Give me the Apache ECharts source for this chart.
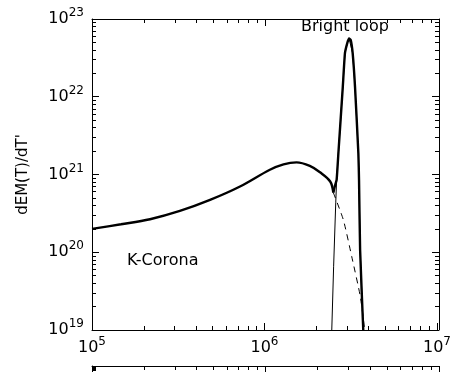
<!DOCTYPE html>
<html>
<head>
<meta charset="utf-8">
<script src="https://cdn.jsdelivr.net/npm/echarts@6/dist/echarts.min.js"></script>
<style>
  html, body { margin: 0; padding: 0; background: #fff; }
  #chart { width: 454px; height: 372px; }
</style>
</head>
<body>
<div id="chart"></div>
<script>
// temperature (K) and dEM/dT
// total curve, K-corona dominated part (up to the dip)
const coronaT = [1.00e5, 1.47e5, 2.16e5, 3.21e5, 4.79e5, 7.13e5, 1.06e6, 1.27e6, 1.51e6, 1.80e6,
  2.06e6, 2.36e6, 2.46e6];
const coronaEM = [2.00e20, 2.29e20, 2.66e20, 3.40e20, 4.71e20, 7.00e20, 1.15e21, 1.35e21, 1.43e21, 1.29e21,
  1.07e21, 8.13e20, 5.85e20];

// total curve, bright loop dominated part (from the dip)
const peakT = [2.46e6, 2.51e6, 2.57e6, 2.63e6, 2.79e6, 2.87e6, 2.96e6, 3.03e6, 3.10e6,
  3.18e6, 3.28e6, 3.43e6, 3.46e6, 3.51e6, 3.66e6];
const peakEM = [5.85e20, 7.08e20, 8.51e20, 1.86e21, 1.35e22, 3.63e22, 4.90e22, 5.62e22, 5.37e22,
  3.63e22, 1.35e22, 1.86e21, 8.51e20, 1.07e20, 1.0e19];

// bright loop component alone (thin line)
const loopT = [2.41e6, 2.47e6, 2.54e6, 2.57e6, 2.63e6, 2.79e6, 2.87e6, 2.96e6, 3.03e6, 3.10e6,
  3.18e6, 3.28e6, 3.43e6, 3.46e6, 3.51e6, 3.66e6];
const loopEM = [1.0e19, 6.61e19, 4.32e20, 8.51e20, 1.86e21, 1.35e22, 3.63e22, 4.90e22, 5.62e22, 5.37e22,
  3.63e22, 1.35e22, 1.86e21, 8.51e20, 1.07e20, 1.0e19];

// K-corona component past the loop onset (dashed)
const coronaTailT = [2.46e6, 2.81e6, 3.14e6, 3.52e6, 3.73e6];
const coronaTailEM = [5.85e20, 2.61e20, 8.81e19, 2.69e19, 1.0e19];

const xRange = [1e5, 1e7];
const yRange = [1e19, 1e23];

const FONT = 'DejaVu Sans';
const pairs = (xs, ys) => xs.map((x, i) => [x, ys[i]]);

// only decades get a label
const powLabel = {
  formatter: (v) => {
    const e = Math.log10(v);
    const r = Math.round(e);
    return Math.abs(e - r) < 1e-6 ? '{b|10}{s|' + r + '}' : '';
  },
  rich: {
    b: { fontSize: 16, fontFamily: FONT, color: '#000' },
    s: { fontSize: 12, fontFamily: FONT, color: '#000', padding: [0, 0, 12, 0] },
  },
};

// IDL style box: ticks inside on every side, minor ticks at 2..9 x 10^n
const axisBase = {
  type: 'log',
  axisLine: { show: true, onZero: false, lineStyle: { color: '#000', width: 1 } },
  axisTick: { show: true, inside: true, length: 7, lineStyle: { color: '#000' } },
  minorTick: { show: true, splitNumber: 9, length: 4, lineStyle: { color: '#000' } },
  splitLine: { show: false },
};

const box = { left: 92, top: 19, width: 347, height: 311 };

const chart = echarts.init(document.getElementById('chart'), null, { renderer: 'canvas' });

chart.setOption({
  animation: false,
  backgroundColor: '#fff',
  grid: [
    { ...box },                                         // bottom / left axes with labels
    { ...box },                                         // top / right mirror axes
    { left: 92, top: 366, width: 347, height: 311 },    // next panel, mostly off the page
    { ...box },                                         // data
  ],
  xAxis: [
    { ...axisBase, gridIndex: 0, min: xRange[0], max: xRange[1],
      axisLabel: { ...powLabel, margin: 6 } },
    { ...axisBase, gridIndex: 1, position: 'top', min: xRange[0], max: xRange[1],
      axisLabel: { show: false } },
    { ...axisBase, gridIndex: 2, position: 'top', min: xRange[0], max: xRange[1],
      axisLabel: { show: false } },
    { type: 'log', gridIndex: 3, min: xRange[0], max: xRange[1], show: false },
  ],
  yAxis: [
    { ...axisBase, gridIndex: 0, min: yRange[0], max: yRange[1],
      name: "dEM(T)/dT'", nameLocation: 'middle', nameGap: 61,
      nameTextStyle: { fontFamily: FONT, fontSize: 15, color: '#000' },
      axisLabel: { ...powLabel, margin: 8 } },
    { ...axisBase, gridIndex: 1, position: 'right', min: yRange[0], max: yRange[1],
      axisLabel: { show: false } },
    { ...axisBase, gridIndex: 2, min: yRange[0], max: yRange[1],
      axisLabel: { ...powLabel, margin: 8 } },
    { type: 'log', gridIndex: 3, min: yRange[0], max: yRange[1], show: false },
  ],
  graphic: [
    { type: 'text', left: 301, top: 19,
      style: { text: 'Bright loop', font: '16px "DejaVu Sans"', fill: '#000' } },
    { type: 'text', left: 127, top: 253,
      style: { text: 'K-Corona', font: '16px "DejaVu Sans"', fill: '#000' } },
  ],
  series: [
    {
      type: 'line', xAxisIndex: 3, yAxisIndex: 3,
      data: pairs(coronaTailT, coronaTailEM),
      symbol: 'none', smooth: 0.2,
      lineStyle: { color: '#000', width: 1, type: [6, 5] },
    },
    {
      type: 'line', xAxisIndex: 3, yAxisIndex: 3,
      data: pairs(loopT, loopEM),
      symbol: 'none',
      lineStyle: { color: '#000', width: 1 },
    },
    {
      type: 'line', xAxisIndex: 3, yAxisIndex: 3,
      data: pairs(coronaT, coronaEM),
      symbol: 'none', smooth: 0.35,
      lineStyle: { color: '#000', width: 2.4 },
    },
    {
      type: 'line', xAxisIndex: 3, yAxisIndex: 3,
      data: pairs(peakT, peakEM),
      symbol: 'none', smooth: 0.15,
      lineStyle: { color: '#000', width: 2.4, join: 'round' },
    },
  ],
});
</script>
</body>
</html>
